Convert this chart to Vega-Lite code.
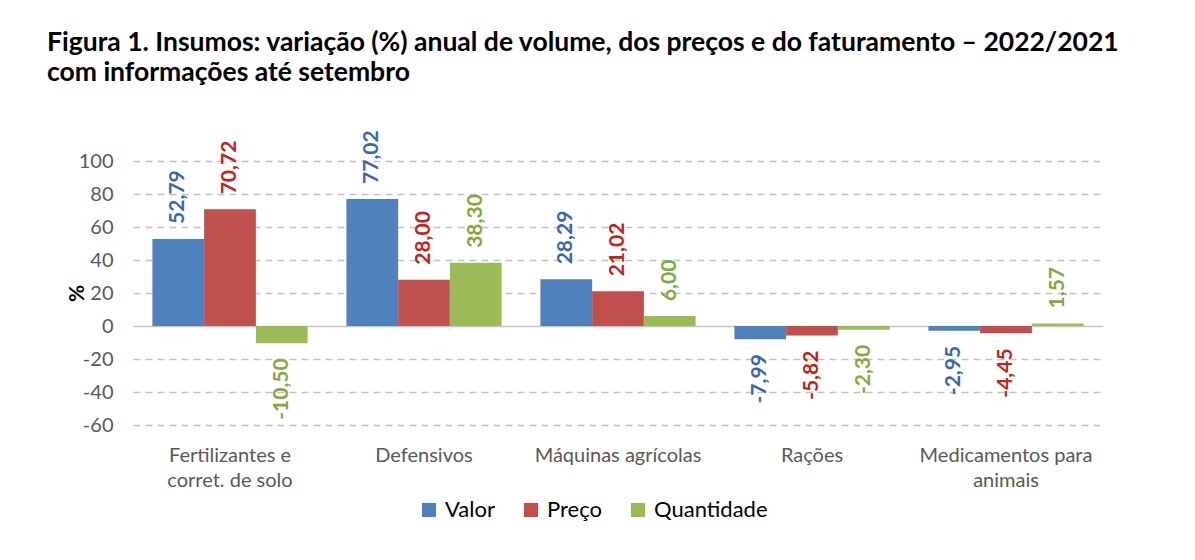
{
  "$schema": "https://vega.github.io/schema/vega-lite/v6.json",
  "width": 970,
  "height": 264,
  "autosize": {"type": "none"},
  "padding": {"left": 133, "top": 161, "right": 92, "bottom": 135},
  "background": "white",
  "config": {
    "locale": {"number": {"decimal": ",", "thousands": ".", "grouping": [3], "currency": ["R$", ""], "minus": "-"}},
    "view": {"stroke": null},
    "font": "Lato"
  },
  "title": {
    "text": ["Figura 1. Insumos: variação (%) anual de volume, dos preços e do faturamento – 2022/2021", "com informações até setembro"],
    "anchor": "start",
    "frame": "group",
    "dx": -86,
    "offset": 44,
    "font": "Lato",
    "fontSize": 26.5,
    "fontWeight": "bold",
    "color": "black",
    "lineHeight": 30
  },
  "data": {
    "values": [
      {"categoria": "Fertilizantes e|corret. de solo", "serie": "Valor", "valor": 52.79},
      {"categoria": "Fertilizantes e|corret. de solo", "serie": "Preço", "valor": 70.72},
      {"categoria": "Fertilizantes e|corret. de solo", "serie": "Quantidade", "valor": -10.50},
      {"categoria": "Defensivos", "serie": "Valor", "valor": 77.02},
      {"categoria": "Defensivos", "serie": "Preço", "valor": 28.00},
      {"categoria": "Defensivos", "serie": "Quantidade", "valor": 38.30},
      {"categoria": "Máquinas agrícolas", "serie": "Valor", "valor": 28.29},
      {"categoria": "Máquinas agrícolas", "serie": "Preço", "valor": 21.02},
      {"categoria": "Máquinas agrícolas", "serie": "Quantidade", "valor": 6.00},
      {"categoria": "Rações", "serie": "Valor", "valor": -7.99},
      {"categoria": "Rações", "serie": "Preço", "valor": -5.82},
      {"categoria": "Rações", "serie": "Quantidade", "valor": -2.30},
      {"categoria": "Medicamentos para|animais", "serie": "Valor", "valor": -2.95},
      {"categoria": "Medicamentos para|animais", "serie": "Preço", "valor": -4.45},
      {"categoria": "Medicamentos para|animais", "serie": "Quantidade", "valor": 1.57}
    ]
  },
  "encoding": {
    "x": {
      "field": "categoria",
      "type": "nominal",
      "sort": null,
      "scale": {"paddingInner": 0.2, "paddingOuter": 0.1},
      "axis": {
        "title": null,
        "domain": false,
        "ticks": false,
        "labelAngle": 0,
        "labelExpr": "split(datum.label, '|')",
        "labelFontSize": 20,
        "labelColor": "#595959",
        "labelPadding": 20,
        "labelLineHeight": 25,
        "labelLimit": 300
      }
    },
    "xOffset": {
      "field": "serie",
      "type": "nominal",
      "sort": ["Valor", "Preço", "Quantidade"],
      "scale": {"paddingInner": 0, "paddingOuter": 0}
    },
    "y": {
      "field": "valor",
      "type": "quantitative",
      "scale": {"domain": [-60, 100], "nice": false, "zero": false},
      "axis": {
        "values": [-60, -40, -20, 0, 20, 40, 60, 80, 100],
        "title": "%",
        "titleFontWeight": "bold",
        "titleFontSize": 21,
        "titleColor": "black",
        "titlePadding": -9,
        "labelFontSize": 20,
        "labelColor": "#595959",
        "labelPadding": 20,
        "ticks": false,
        "domain": false,
        "grid": true,
        "gridColor": "#c4c4c4",
        "gridWidth": 1.5,
        "gridDash": {"condition": {"test": "datum.value === 0", "value": []}, "value": [7, 5]}
      }
    }
  },
  "layer": [
    {
      "mark": {"type": "bar"},
      "encoding": {
        "color": {
          "field": "serie",
          "type": "nominal",
          "sort": ["Valor", "Preço", "Quantidade"],
          "scale": {"domain": ["Valor", "Preço", "Quantidade"], "range": ["#4F81BD", "#C0504D", "#9BBB59"]},
          "legend": {
            "orient": "none",
            "legendX": 285,
            "legendY": 338,
            "direction": "horizontal",
            "title": null,
            "symbolType": "square",
            "symbolSize": 200,
            "symbolStrokeWidth": 0,
            "labelFontSize": 22,
            "labelColor": "black",
            "columnPadding": 25,
            "labelOffset": 5
          }
        }
      }
    },
    {
      "transform": [{"filter": "datum.valor >= 0"}],
      "mark": {"type": "text", "angle": 270, "align": "left", "baseline": "middle", "dx": 15, "fontSize": 21, "fontWeight": "bold"},
      "encoding": {
        "text": {"field": "valor", "type": "quantitative", "format": ".2f"},
        "color": {
          "field": "serie",
          "type": "nominal",
          "scale": {"domain": ["Valor", "Preço", "Quantidade"], "range": ["#3B68AC", "#C0241E", "#85A843"]},
          "legend": null
        }
      }
    },
    {
      "transform": [{"filter": "datum.valor < 0"}],
      "mark": {"type": "text", "angle": 270, "align": "right", "baseline": "middle", "dx": -15, "fontSize": 21, "fontWeight": "bold"},
      "encoding": {
        "text": {"field": "valor", "type": "quantitative", "format": ".2f"},
        "color": {
          "field": "serie",
          "type": "nominal",
          "scale": {"domain": ["Valor", "Preço", "Quantidade"], "range": ["#3B68AC", "#C0241E", "#85A843"]},
          "legend": null
        }
      }
    }
  ],
  "resolve": {"scale": {"color": "independent"}}
}
